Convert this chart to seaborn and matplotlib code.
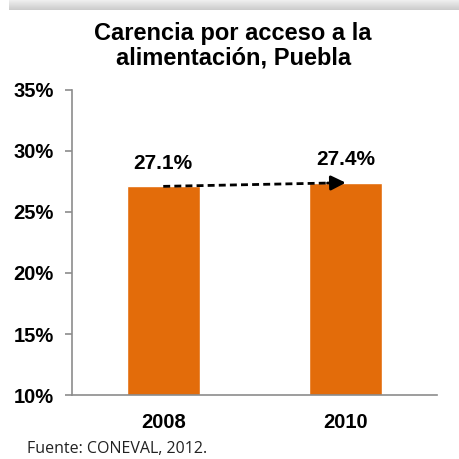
"""Carencia por acceso a la alimentación, Puebla"""

import numpy as np
import pandas as pd
import matplotlib
matplotlib.use("Agg")
import matplotlib.pyplot as plt
import seaborn as sns

years = ["2008", "2010"]
carencia = [27.1, 27.4]
y_ticks = [10, 15, 20, 25, 30, 35]
title = "Carencia por acceso a la\nalimentación, Puebla"
source = "Fuente: CONEVAL, 2012."

bar_color = "#E36C0A"
axis_color = "#8C8C8C"

sns.set_style("white")
plt.rcParams["font.family"] = ["Liberation Sans", "DejaVu Sans"]
plt.rcParams["text.color"] = "black"
plt.rcParams["xtick.labelcolor"] = "black"
plt.rcParams["ytick.labelcolor"] = "black"

df = pd.DataFrame({"year": years, "value": carencia})

fig = plt.figure(figsize=(4.6, 4.59), dpi=100)
ax = fig.add_axes([0.1565, 0.1394, 0.7935, 0.6646])

sns.barplot(data=df, x="year", y="value", color=bar_color, width=0.4,
            saturation=1, ax=ax)

ax.set_ylim(10, 35)
ax.set_xlim(-0.5, 1.5)
ax.set_yticks(y_ticks)
ax.set_yticklabels([f"{t}%" for t in y_ticks], fontsize=14.5, fontweight="bold")
ax.set_xticks(range(len(years)))
ax.set_xticklabels(years, fontsize=14.5, fontweight="bold")
ax.set_xticks([-0.5, 0.5, 1.5], minor=True)
ax.tick_params(axis="x", which="major", length=0, pad=13)
ax.tick_params(axis="x", which="minor", length=5, color=axis_color, width=1.2)
ax.tick_params(axis="y", length=5, color=axis_color, width=1.2, pad=8,
               left=True)
ax.set_xlabel("")
ax.set_ylabel("")
for side in ["top", "right"]:
    ax.spines[side].set_visible(False)
for side in ["left", "bottom"]:
    ax.spines[side].set_color(axis_color)
    ax.spines[side].set_linewidth(1.2)

# value labels
for i, v in enumerate(carencia):
    ax.text(i, v + 1.9, f"{v}%", ha="center", va="center",
            fontsize=15, fontweight="bold")

# dashed trend arrow between bar tops
x0, x1 = 0, 1
y0, y1 = carencia
xm = x1 - 0.09
ym = y0 + (y1 - y0) * (xm - x0) / (x1 - x0)
ax.plot([x0, xm], [y0, ym], color="black", lw=2, ls=(0, (2.5, 1.5)))
ax.annotate("", xy=(x1, y1), xytext=(xm - 0.01, ym),
            arrowprops=dict(arrowstyle="-|>", color="black", lw=2,
                            mutation_scale=22, shrinkA=0, shrinkB=0))

fig.text(0.507, 0.9, title, ha="center", va="center", fontsize=17,
         fontweight="bold", linespacing=1.05)
fig.text(0.058, 0.022, source, ha="left", va="center", fontsize=11.5,
         family=["Open Sans", "DejaVu Sans"], color="#222222")

# grey shadow strip along the top edge
gax = fig.add_axes([0.02, 1 - 10 / 459, 0.98, 10 / 459])
grad = np.linspace(0.93, 0.80, 10).reshape(-1, 1)
gax.imshow(grad, aspect="auto", cmap="gray", vmin=0, vmax=1,
           extent=[0, 1, 0, 1], origin="upper")
gax.axis("off")

fig.savefig("out.png", dpi=100)
